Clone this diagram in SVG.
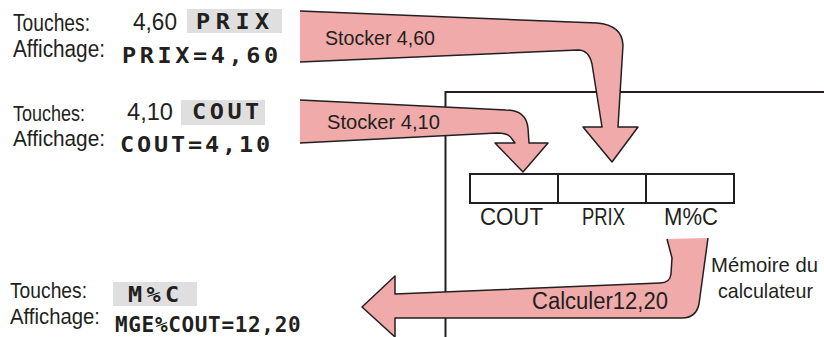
<svg xmlns="http://www.w3.org/2000/svg" width="824" height="337" viewBox="0 0 824 337">
<style>
.lbl{font-family:"Liberation Sans",Arial,sans-serif;fill:#231f20}
.mono{font-family:"DejaVu Sans Mono","Liberation Mono",monospace;font-weight:bold;font-size:21px;fill:#231f20}
.key{fill:#dfdfdf}
.arrow{fill:#f0aaaa;stroke:#231f20;stroke-width:1.5;stroke-linejoin:round}
.box{fill:#fff;stroke:#231f20;stroke-width:2}
.frame{fill:none;stroke:#231f20;stroke-width:2}
</style>
<rect width="824" height="337" fill="#fff"/>
<g id="memoire">
<path class="frame" d="M445.5,337 V92 H824"/>
<text class="lbl" x="711" y="272" font-size="21" textLength="107" lengthAdjust="spacingAndGlyphs">Mémoire du</text>
<text class="lbl" x="718" y="298" font-size="21" textLength="95" lengthAdjust="spacingAndGlyphs">calculateur</text>
</g>
<g id="reg-cout">
<rect class="box" x="470" y="174" width="88" height="29"/>
<text class="lbl" x="480" y="225" font-size="23" textLength="63" lengthAdjust="spacingAndGlyphs">COUT</text>
</g>
<g id="reg-prix">
<rect class="box" x="558" y="174" width="88" height="29"/>
<text class="lbl" x="582" y="225" font-size="23" textLength="43" lengthAdjust="spacingAndGlyphs">PRIX</text>
</g>
<g id="reg-mc">
<rect class="box" x="646" y="174" width="88" height="29"/>
<text class="lbl" x="664" y="225" font-size="23" textLength="54" lengthAdjust="spacingAndGlyphs">M%C</text>
</g>
<g id="entree-prix">
<text class="lbl" x="13" y="31" font-size="23" textLength="77" lengthAdjust="spacingAndGlyphs">Touches:</text>
<text class="lbl" x="133" y="30" font-size="23" textLength="44" lengthAdjust="spacingAndGlyphs">4,60</text>
<rect class="key" x="187" y="9" width="95" height="24"/>
<text class="mono" transform="translate(196,29) scale(1.12,1)" letter-spacing="4.95">PRIX</text>
<text class="lbl" x="13" y="57" font-size="23" textLength="92" lengthAdjust="spacingAndGlyphs">Affichage:</text>
<text class="mono" transform="translate(122,63) scale(1.12,1)" letter-spacing="3.2">PRIX=4,60</text>
</g>
<g id="entree-cout">
<text class="lbl" x="13" y="121" font-size="22" textLength="72" lengthAdjust="spacingAndGlyphs">Touches:</text>
<text class="lbl" x="127" y="120" font-size="23" textLength="46" lengthAdjust="spacingAndGlyphs">4,10</text>
<rect class="key" x="181" y="100" width="84" height="25"/>
<text class="mono" transform="translate(192,119) scale(1.12,1)" letter-spacing="3.16">COUT</text>
<text class="lbl" x="13" y="146" font-size="22" textLength="92" lengthAdjust="spacingAndGlyphs">Affichage:</text>
<text class="mono" transform="translate(120,152) scale(1.12,1)" letter-spacing="2.54">COUT=4,10</text>
</g>
<g id="calcul-mc">
<text class="lbl" x="10" y="298" font-size="22" textLength="77" lengthAdjust="spacingAndGlyphs">Touches:</text>
<rect class="key" x="113" y="282" width="84" height="24"/>
<text class="mono" transform="translate(128,302) scale(1.12,1)" letter-spacing="3.88">M%C</text>
<text class="lbl" x="10" y="324" font-size="22" textLength="90" lengthAdjust="spacingAndGlyphs">Affichage:</text>
<text class="mono" x="115" y="332" letter-spacing="0.66">MGE%COUT=12,20</text>
</g>
<g id="connectors">
<path class="arrow" d="M300,11 L597,23 Q622,25 623,45 L618,127 L638,127 L612,162 L583,127 L602,127 L592,64 Q589,50 578,50 L300,62"/>
<text class="lbl" x="325" y="45" font-size="21" textLength="110" lengthAdjust="spacingAndGlyphs">Stocker 4,60</text>
<path class="arrow" d="M300,143 L497,133 Q509,133 512,139 L515,143 L495,143 L523,172 L548,143 L529,143 L528,128 Q526,110 506,110 L300,100"/>
<text class="lbl" x="327" y="129" font-size="21" textLength="113" lengthAdjust="spacingAndGlyphs">Stocker 4,10</text>
<path class="arrow" d="M667,239 L672,258 L671,274 Q670,283 660,283 L395,294 L395,276 L362,307 L395,337 L395,318 L682,318 Q696,318 699,304 L708,238"/>
<text class="lbl" x="532" y="309" font-size="23" textLength="136" lengthAdjust="spacingAndGlyphs">Calculer12,20</text>
</g>
</svg>
